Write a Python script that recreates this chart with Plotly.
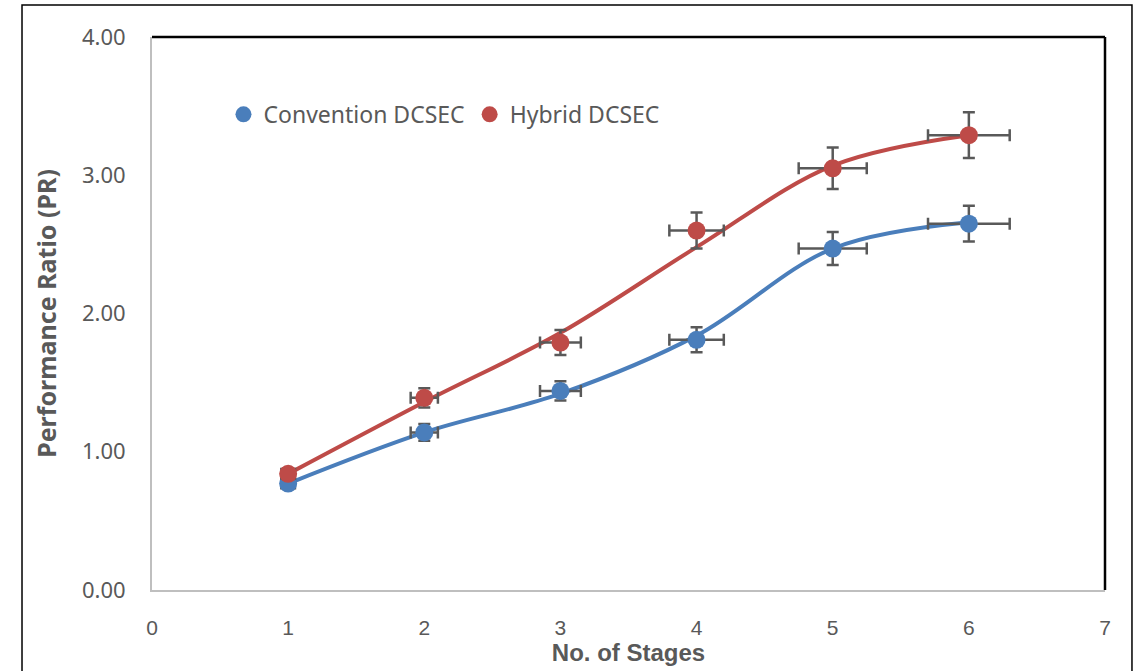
import plotly.graph_objects as go

stages = [1, 2, 3, 4, 5, 6]
conv_pr = [0.77, 1.14, 1.44, 1.81, 2.47, 2.65]
hyb_pr = [0.84, 1.39, 1.79, 2.60, 3.05, 3.29]
conv_yerr = [0.04, 0.06, 0.07, 0.09, 0.12, 0.13]
hyb_yerr = [0.04, 0.07, 0.09, 0.13, 0.15, 0.165]
xerr = [0.05, 0.10, 0.15, 0.20, 0.25, 0.30]
# smoothed curve values as drawn in the picture
conv_curve = [0.77, 1.14, 1.42, 1.84, 2.47, 2.66]
hyb_curve = [0.84, 1.36, 1.86, 2.48, 3.07, 3.29]

blue = "#4A7EBB"
red = "#BE4B48"
errc = "#595959"
grey = "#595959"

fig = go.Figure()
fig.add_trace(go.Scatter(x=stages, y=conv_curve, mode="lines", line=dict(color=blue, width=4, shape="spline", smoothing=1.0),
                         showlegend=False, hoverinfo="skip"))
fig.add_trace(go.Scatter(x=stages, y=hyb_curve, mode="lines", line=dict(color=red, width=4, shape="spline", smoothing=1.0),
                         showlegend=False, hoverinfo="skip"))
for name, y, ye, col in [("Convention DCSEC", conv_pr, conv_yerr, blue), ("Hybrid DCSEC", hyb_pr, hyb_yerr, red)]:
    fig.add_trace(go.Scatter(
        x=stages, y=y, mode="markers", name=name,
        marker=dict(color=col, size=18),
        error_y=dict(type="data", array=ye, color=errc, thickness=2.5, width=6),
        error_x=dict(type="data", array=xerr, color=errc, thickness=2.5, width=6),
    ))

fig.update_layout(
    width=1143, height=671,
    margin=dict(l=152, r=38, t=37, b=81),
    paper_bgcolor="white", plot_bgcolor="white",
    font=dict(family="Noto Sans", color=grey, size=19),
    legend=dict(orientation="h", x=0.075, y=0.86, xanchor="left", yanchor="middle",
                font=dict(size=23, color=grey), bgcolor="rgba(0,0,0,0)", itemsizing="trace",
                itemwidth=30, tracegroupgap=0),
    xaxis=dict(range=[0, 7], dtick=1, showgrid=False, zeroline=False, showline=True,
               linecolor="#BFBFBF", linewidth=2, ticks="", ticklabelstandoff=18,
               tickfont=dict(family="Liberation Sans Narrow, Liberation Sans", size=21, color=grey),
               title=dict(text="<b>No. of Stages</b>", standoff=0,
                          font=dict(family="Liberation Sans Narrow, Liberation Sans", size=24, color=grey))),
    yaxis=dict(range=[0, 4], dtick=1, tickformat=".2f", showgrid=False, zeroline=False, showline=True,
               linecolor="#BFBFBF", linewidth=2, ticks="", ticklabelstandoff=20,
               tickfont=dict(size=22, color=grey),
               title=dict(text="<b>Performance Ratio (PR)</b>", standoff=18, font=dict(size=25, color=grey))),
    shapes=[
        dict(type="line", xref="paper", yref="paper", x0=0, x1=1, y0=1, y1=1, line=dict(color="black", width=2.5)),
        dict(type="line", xref="paper", yref="paper", x0=1, x1=1, y0=0, y1=1, line=dict(color="black", width=2.5)),
        dict(type="rect", xref="paper", yref="paper", x0=-0.1364, x1=1.0283, y0=-0.3, y1=1.0579,
             line=dict(color="black", width=1.5), layer="below"),
    ],
)

fig.write_html("out.html", config={"displayModeBar": False},
               post_script="document.body.style.margin='0';document.body.style.overflow='hidden';")
